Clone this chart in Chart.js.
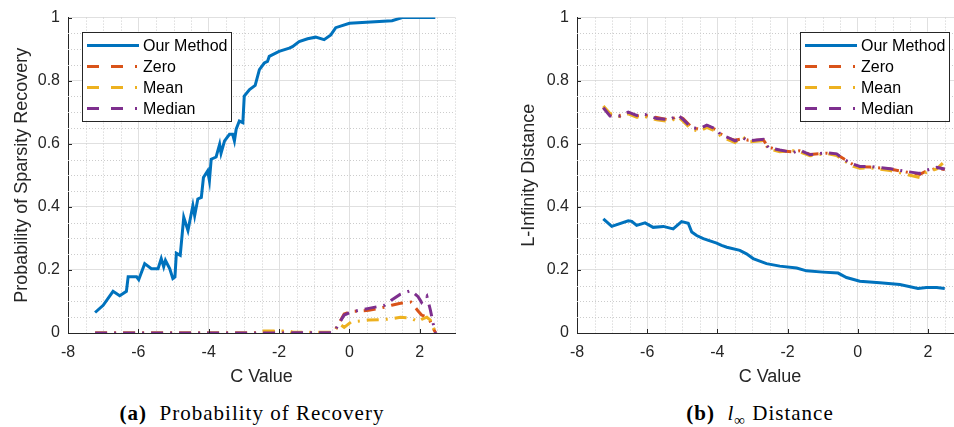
<!DOCTYPE html>
<html lang="en">
<head>
    <meta charset="UTF-8">
    <title>Recovery and L-Infinity Distance</title>
    <script src="https://cdn.jsdelivr.net/npm/chart.js@4.4.0/dist/chart.umd.min.js"></script>
    <style>
        body {
            margin: 0;
            width: 954px;
            height: 427px;
            overflow: hidden;
            position: relative;
            background: #fff;
            font-family: "Liberation Sans", Arial, sans-serif;
        }
        canvas { position: absolute; top: 0; }
        #chartA { left: 0; }
        #chartB { left: 490px; }
        .caption {
            position: absolute;
            top: 401px;
            font-family: "Liberation Serif", "DejaVu Serif", serif;
            font-size: 21px;
            letter-spacing: 1px;
            color: #000;
            white-space: nowrap;
            transform: translateX(-50%);
        }
        .caption b { font-weight: bold; }
    </style>
</head>
<body>
    <canvas id="chartA" width="470" height="395"></canvas>
    <canvas id="chartB" width="490" height="395"></canvas>
    <div class="caption" style="left: 252px;"><b>(a)</b>&nbsp; Probability of Recovery</div>
    <div class="caption" style="left: 760px;"><b>(b)</b>&nbsp; <i>l</i><sub style="font-size:15px;">∞</sub> Distance</div>

    <script>
        // axis ticks
        const xTicks = [-8, -6, -4, -2, 0, 2];
        const yTicks = [0, 0.2, 0.4, 0.6, 0.8, 1];
        const yTickLabels = ["0", "0.2", "0.4", "0.6", "0.8", "1"];
        const seriesNames = ["Our Method", "Zero", "Mean", "Median"];

        // (a) probability of recovery
        const ourXa = [-7.23, -7.0, -6.72, -6.53, -6.34, -6.29, -6.05, -5.99, -5.82, -5.63, -5.44, -5.35, -5.28, -5.23, -5.11, -5.02, -4.96, -4.92, -4.81, -4.71, -4.59, -4.45, -4.40, -4.31, -4.21, -4.15, -4.03, -3.98, -3.93, -3.79, -3.69, -3.65, -3.55, -3.41, -3.32, -3.27, -3.22, -3.13, -3.03, -2.99, -2.84, -2.68, -2.56, -2.42, -2.33, -2.28, -2.0, -1.71, -1.62, -1.43, -1.19, -0.96, -0.72, -0.53, -0.39, 0.0, 1.21, 1.5, 2.44];
        const ourRecovery = [0.065, 0.088, 0.132, 0.118, 0.132, 0.178, 0.178, 0.169, 0.22, 0.204, 0.204, 0.236, 0.21, 0.23, 0.204, 0.173, 0.178, 0.253, 0.246, 0.367, 0.325, 0.404, 0.372, 0.425, 0.43, 0.493, 0.514, 0.483, 0.551, 0.558, 0.598, 0.57, 0.609, 0.63, 0.63, 0.609, 0.646, 0.672, 0.667, 0.751, 0.772, 0.785, 0.835, 0.856, 0.861, 0.877, 0.893, 0.903, 0.908, 0.924, 0.933, 0.938, 0.93, 0.945, 0.968, 0.982, 0.99, 1.0, 1.0];
        const baseXa = [-7.23, -2.7, -2.6, -1.7, -1.6, -0.5, -0.4, -0.3, -0.15, 0.05, 0.55, 1.0, 1.2, 1.45, 1.75, 1.95, 2.05, 2.2, 2.3, 2.38, 2.45];
        const zeroRecovery = [0, 0, 0.004, 0.004, 0, 0, 0.01, 0.03, 0.06, 0.068, 0.072, 0.082, 0.088, 0.094, 0.098, 0.07, 0.057, 0.05, 0.036, 0.015, 0];
        const meanRecovery = [0, 0, 0.006, 0.006, 0.002, 0.002, 0.01, 0.03, 0.018, 0.035, 0.041, 0.043, 0.045, 0.05, 0.047, 0.036, 0.043, 0.05, 0.041, 0.02, 0];
        const medianRecovery = [0, 0, 0, 0, 0.001, 0.001, 0.01, 0.03, 0.057, 0.067, 0.078, 0.088, 0.105, 0.123, 0.135, 0.115, 0.097, 0.117, 0.073, 0.03, 0];

        // (b) l-infinity distance
        const ourXb = [-7.25, -7.01, -6.54, -6.44, -6.3, -6.06, -5.83, -5.54, -5.26, -5.02, -4.83, -4.73, -4.59, -4.4, -4.02, -3.88, -3.73, -3.36, -3.17, -2.98, -2.6, -2.22, -1.74, -1.46, -0.99, -0.56, -0.32, 0.06, 0.63, 1.2, 1.72, 1.96, 2.25, 2.48];
        const ourDistance = [0.362, 0.338, 0.356, 0.354, 0.341, 0.349, 0.335, 0.338, 0.33, 0.353, 0.348, 0.32, 0.309, 0.299, 0.285, 0.278, 0.272, 0.262, 0.251, 0.236, 0.22, 0.212, 0.206, 0.197, 0.193, 0.19, 0.176, 0.164, 0.159, 0.154, 0.141, 0.144, 0.144, 0.141];
        const baseXb = [-7.25, -7.06, -6.77, -6.54, -6.3, -6.06, -5.73, -5.35, -5.12, -4.98, -4.73, -4.5, -4.3, -4.02, -3.92, -3.68, -3.5, -3.27, -3.12, -2.69, -2.55, -2.22, -1.84, -1.65, -1.36, -0.89, -0.6, -0.41, -0.12, 0.06, 0.35, 0.92, 1.39, 1.77, 1.96, 2.25, 2.48];
        const zeroDistance = [0.716, 0.692, 0.690, 0.698, 0.688, 0.690, 0.683, 0.675, 0.688, 0.680, 0.652, 0.645, 0.657, 0.644, 0.632, 0.617, 0.611, 0.616, 0.611, 0.612, 0.590, 0.578, 0.574, 0.578, 0.566, 0.570, 0.566, 0.553, 0.533, 0.527, 0.526, 0.520, 0.510, 0.503, 0.514, 0.522, 0.518];
        const meanDistance = [0.720, 0.696, 0.686, 0.695, 0.684, 0.686, 0.676, 0.670, 0.685, 0.672, 0.645, 0.640, 0.652, 0.638, 0.626, 0.612, 0.604, 0.622, 0.606, 0.610, 0.584, 0.575, 0.578, 0.574, 0.562, 0.569, 0.563, 0.548, 0.528, 0.522, 0.524, 0.515, 0.503, 0.493, 0.510, 0.520, 0.545];
        const medianDistance = [0.714, 0.688, 0.688, 0.700, 0.690, 0.693, 0.680, 0.677, 0.691, 0.677, 0.651, 0.648, 0.659, 0.646, 0.630, 0.619, 0.609, 0.619, 0.609, 0.614, 0.588, 0.580, 0.572, 0.580, 0.565, 0.572, 0.568, 0.551, 0.535, 0.528, 0.528, 0.521, 0.512, 0.506, 0.516, 0.525, 0.520];

        const colors = ["#0072BD", "#D95319", "#EDB120", "#7E2F8E"];
        const dashDot = [12, 7, 2, 7];
        const axisColor = "#262626";

        function pts(xs, ys) {
            return xs.map((x, i) => ({ x: x, y: ys[i] }));
        }

        // minor dotted grid, inward ticks and boxed legend
        const matlabPlugin = {
            id: "matlab",
            beforeDatasetsDraw(chart) {
                const { ctx, chartArea: a, scales: { x, y } } = chart;
                ctx.save();
                ctx.strokeStyle = "#cccccc";
                ctx.lineWidth = 1;
                ctx.setLineDash([1, 2]);
                for (let v = -8; v <= 3.001; v += 0.5) {
                    if (xTicks.includes(v)) continue;
                    const px = Math.round(x.getPixelForValue(v)) + 0.5;
                    ctx.beginPath(); ctx.moveTo(px, a.top); ctx.lineTo(px, a.bottom); ctx.stroke();
                }
                for (let k = 0; k <= 20; k++) {
                    if (k % 4 === 0) continue;
                    const py = Math.round(y.getPixelForValue(k * 0.05)) + 0.5;
                    ctx.beginPath(); ctx.moveTo(a.left, py); ctx.lineTo(a.right, py); ctx.stroke();
                }
                ctx.restore();
            },
            afterDraw(chart, args, opts) {
                const { ctx, chartArea: a, scales: { x, y } } = chart;
                ctx.save();
                // inward ticks
                ctx.strokeStyle = axisColor;
                ctx.lineWidth = 1;
                xTicks.forEach(v => {
                    const px = Math.round(x.getPixelForValue(v)) + 0.5;
                    ctx.beginPath(); ctx.moveTo(px, a.bottom); ctx.lineTo(px, a.bottom - 4); ctx.stroke();
                });
                yTicks.forEach(v => {
                    const py = Math.round(y.getPixelForValue(v)) + 0.5;
                    ctx.beginPath(); ctx.moveTo(a.left, py); ctx.lineTo(a.left + 4, py); ctx.stroke();
                });
                // legend
                const w = 149, h = 89;
                const left = opts.side === "left" ? a.left + 14 : a.right - 14 - w;
                const top = a.top + 14;
                ctx.fillStyle = "#fff";
                ctx.fillRect(left, top, w, h);
                ctx.strokeStyle = "#262626";
                ctx.strokeRect(Math.round(left) + 0.5, Math.round(top) + 0.5, w, h);
                ctx.font = "16px 'Liberation Sans', Arial, sans-serif";
                ctx.textBaseline = "middle";
                seriesNames.forEach((name, i) => {
                    const ry = top + 14 + i * 21;
                    ctx.strokeStyle = colors[i];
                    ctx.lineWidth = 3;
                    ctx.setLineDash(i === 0 ? [] : [12, 12, 12, 12, 2, 40]);
                    ctx.beginPath(); ctx.moveTo(left + 5, ry); ctx.lineTo(left + 57, ry); ctx.stroke();
                    ctx.fillStyle = "#000";
                    ctx.fillText(name, left + 61, ry + 1);
                });
                ctx.restore();
            }
        };

        function makeChart(id, datasets, yTitle, yWidth, titlePad, rightPad, side) {
            return new Chart(document.getElementById(id), {
                type: "line",
                data: { datasets: datasets },
                plugins: [matlabPlugin],
                options: {
                    responsive: false,
                    animation: false,
                    devicePixelRatio: 1,
                    layout: { padding: { top: 16, right: rightPad, left: 0, bottom: 0 } },
                    plugins: { legend: { display: false }, tooltip: { enabled: false }, matlab: { side: side } },
                    elements: { point: { radius: 0 }, line: { tension: 0, borderWidth: 3 } },
                    scales: {
                        x: {
                            type: "linear",
                            min: -8,
                            max: 3,
                            afterBuildTicks: s => { s.ticks = xTicks.map(v => ({ value: v })); },
                            afterFit: s => { s.height = 62; },
                            ticks: { color: axisColor, padding: 10, font: { size: 16 }, maxRotation: 0, callback: v => String(v) },
                            grid: { color: "#e0e0e0", drawTicks: false },
                            border: { color: axisColor, width: 1 },
                            title: { display: true, text: "C Value", color: axisColor, font: { size: 18 }, padding: { top: 0, bottom: 7 } }
                        },
                        y: {
                            min: 0,
                            max: 1,
                            afterBuildTicks: s => { s.ticks = yTicks.map(v => ({ value: v })); },
                            afterFit: s => { s.width = yWidth; },
                            ticks: { color: axisColor, padding: 8, font: { size: 16 }, callback: (v, i) => yTickLabels[i] },
                            grid: { color: "#e0e0e0", drawTicks: false },
                            border: { color: axisColor, width: 1 },
                            title: { display: true, text: yTitle, color: axisColor, font: { size: 18 }, padding: { top: titlePad, bottom: 0 } }
                        }
                    }
                }
            });
        }

        function lineSets(ourX, ourY, baseX, zeroY, meanY, medianY) {
            return [
                { label: seriesNames[0], data: pts(ourX, ourY), borderColor: colors[0], order: 3 },
                { label: seriesNames[1], data: pts(baseX, zeroY), borderColor: colors[1], borderDash: dashDot, order: 2 },
                { label: seriesNames[2], data: pts(baseX, meanY), borderColor: colors[2], borderDash: dashDot, order: 1 },
                { label: seriesNames[3], data: pts(baseX, medianY), borderColor: colors[3], borderDash: dashDot, order: 0 }
            ];
        }

        makeChart("chartA", lineSets(ourXa, ourRecovery, baseXa, zeroRecovery, meanRecovery, medianRecovery),
            "Probability of Sparsity Recovery", 68, 11, 15, "left");
        makeChart("chartB", lineSets(ourXb, ourDistance, baseXb, zeroDistance, meanDistance, medianDistance),
            "L-Infinity Distance", 87, 28, 17, "right");
    </script>
</body>
</html>
